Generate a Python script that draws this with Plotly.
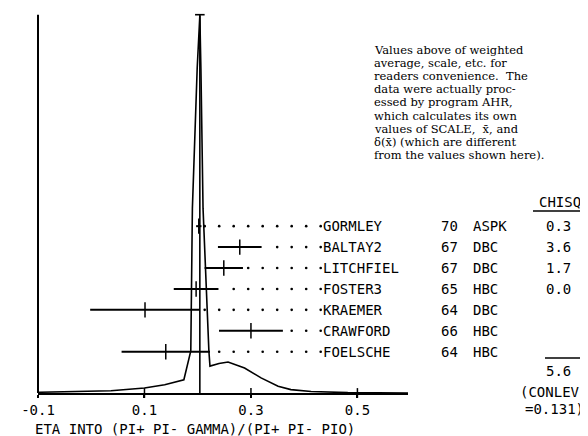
import plotly.graph_objects as go

# ---------------- data ----------------
names = ["GORMLEY", "BALTAY2", "LITCHFIEL", "FOSTER3", "KRAEMER", "CRAWFORD", "FOELSCHE"]
years = ["70", "67", "67", "65", "64", "66", "64"]
techs = ["ASPK", "DBC", "DBC", "HBC", "DBC", "HBC", "HBC"]
values = [0.202, 0.279, 0.249, 0.197, 0.101, 0.300, 0.140]
errors = [0.005, 0.041, 0.036, 0.042, 0.103, 0.060, 0.083]
chisq = ["0.3", "3.6", "1.7", "0.0", "", "", ""]
chisq_total = "5.6"
conlev = "0.131"
average = 0.204

ideo_x = [-0.100, -0.097, 0.037, 0.100, 0.138, 0.174, 0.187, 0.190, 0.199, 0.204,
          0.206, 0.210, 0.221, 0.223, 0.240, 0.257, 0.288, 0.319, 0.351, 0.375,
          0.413, 0.482, 0.595]
ideo_y = [0.000, 0.002, 0.006, 0.013, 0.022, 0.035, 0.111, 0.488, 0.858, 0.998,
          0.858, 0.488, 0.111, 0.071, 0.078, 0.082, 0.066, 0.040, 0.018, 0.009,
          0.004, 0.001, 0.000]

tick_vals = [-0.1, 0.1, 0.3, 0.5]
tick_text = ["-0.1", "0.1", "0.3", "0.5"]
x_title = "ETA INTO (PI+ PI- GAMMA)/(PI+ PI- PIO)"
note_lines = [
    "Values above of weighted",
    "average, scale, etc. for",
    "readers convenience.\u00a0\u00a0The",
    "data were actually proc-",
    "essed by program AHR,",
    "which calculates its own",
    "values of SCALE,\u00a0\u00a0x\u0304, and",
    "\u03b4(x\u0304) (which are different",
    "from the values shown here).",
]

# ---------------- layout helpers ----------------
W, H = 588, 436
ML, MR, MT, MB = 30, 188, 3, 51
PW = W - ML - MR
PH = H - MT - MB
Y_UNIT_PX = 378.3
X_END = 0.595
LEADER_END = 0.431
DOT_STEP = 14.5 / (PW / (X_END + 0.1))
MONO = "DejaVu Sans Mono"
SERIF = "DejaVu Serif"


def pxx(px):
    return (px - ML) / PW


def pxy(py):
    return (H - MB - py) / PH


row_y0, row_dy = 0.441, 0.0553
row_ys = [row_y0 - i * row_dy for i in range(len(names))]

fig = go.Figure()

# ideogram
fig.add_trace(go.Scatter(x=ideo_x, y=ideo_y, mode="lines",
                         line=dict(color="black", width=1.6), hoverinfo="skip"))

# weighted average line with cap
cap = 0.009
fig.add_trace(go.Scatter(x=[average, average, None, average - cap, average + cap],
                         y=[0, 1, None, 1, 1], mode="lines",
                         line=dict(color="black", width=1.6), cliponaxis=False,
                         hoverinfo="skip"))

# dotted leaders (dots counted back from the label column)
dx, dy = [], []
for v, e, y in zip(values, errors, row_ys):
    x = LEADER_END
    while x > v + e + 0.004:
        dx.append(x)
        dy.append(y)
        x -= DOT_STEP
fig.add_trace(go.Scatter(x=dx, y=dy, mode="markers",
                         marker=dict(symbol="circle", size=2.6, color="black"),
                         hoverinfo="skip"))

# measurements with error bars
fig.add_trace(go.Scatter(x=values, y=row_ys, mode="markers",
                         marker=dict(symbol="line-ns-open", size=11, color="black",
                                     line=dict(color="black", width=1.5)),
                         error_x=dict(type="data", array=errors, width=0,
                                      thickness=2, color="black"),
                         hoverinfo="skip"))

# crossing tick marks on the x axis
fig.add_trace(go.Scatter(x=tick_vals[1:], y=[0] * 3, mode="markers",
                         marker=dict(symbol="line-ns-open", size=7, color="black",
                                     line=dict(color="black", width=1.5)),
                         cliponaxis=False, hoverinfo="skip"))

mono = dict(family=MONO, size=14, color="black")
ann = []
for i, (n, yr, t, c) in enumerate(zip(names, years, techs, chisq)):
    py = row_ys[i]
    ann.append(dict(x=LEADER_END + 0.001, y=py, xref="x", yref="y", text=n,
                    xanchor="left", yanchor="middle", showarrow=False, font=mono))
    ann.append(dict(x=pxx(431), y=py, xref="paper", yref="y", text=yr,
                    xanchor="left", yanchor="middle", showarrow=False, font=mono))
    ann.append(dict(x=pxx(463), y=py, xref="paper", yref="y", text=t,
                    xanchor="left", yanchor="middle", showarrow=False, font=mono))
    if c:
        ann.append(dict(x=pxx(550), y=py, xref="paper", yref="y", text=c,
                        xanchor="center", yanchor="middle", showarrow=False, font=mono))

ann.append(dict(x=pxx(552), y=pxy(194), xref="paper", yref="paper", text="CHISQ",
                xanchor="center", yanchor="middle", showarrow=False, font=mono))
ann.append(dict(x=pxx(550), y=pxy(363), xref="paper", yref="paper", text=chisq_total,
                xanchor="center", yanchor="middle", showarrow=False, font=mono))
ann.append(dict(x=pxx(510), y=pxy(384), xref="paper", yref="paper", text="(CONLEV",
                xanchor="left", yanchor="middle", showarrow=False, font=mono))
ann.append(dict(x=pxx(515), y=pxy(401), xref="paper", yref="paper", text="=" + conlev + ")",
                xanchor="left", yanchor="middle", showarrow=False, font=mono))
ann.append(dict(x=pxx(25), y=pxy(421), xref="paper", yref="paper", text=x_title,
                xanchor="left", yanchor="middle", showarrow=False, font=mono))

for k, line in enumerate(note_lines):
    ann.append(dict(x=pxx(364), y=pxy(42 + 13.1 * k), xref="paper", yref="paper",
                    text=line, xanchor="left", yanchor="middle", showarrow=False,
                    font=dict(family=SERIF, size=11.5, color="black")))

shapes = [
    # left vertical axis (from baseline up to the ideogram top)
    dict(type="line", xref="paper", yref="paper", x0=0, x1=0,
         y0=0, y1=pxy(6.7), line=dict(color="black", width=2)),
    # CHISQ underline
    dict(type="line", xref="paper", yref="paper", x0=pxx(525), x1=pxx(580),
         y0=pxy(203), y1=pxy(203), line=dict(color="black", width=1.5)),
    # sum line above total
    dict(type="line", xref="paper", yref="paper", x0=pxx(537), x1=pxx(581),
         y0=pxy(350), y1=pxy(350), line=dict(color="black", width=1.5)),
]

fig.update_layout(
    width=W, height=H,
    margin=dict(l=ML, r=MR, t=MT, b=MB),
    paper_bgcolor="white", plot_bgcolor="white",
    showlegend=False,
    annotations=ann, shapes=shapes,
    xaxis=dict(range=[-0.1, X_END], showline=True, linecolor="black", linewidth=2,
               showgrid=False, zeroline=False, ticks="outside", ticklen=3,
               tickwidth=1.5, tickcolor="black", tickvals=tick_vals, ticktext=tick_text,
               tickfont=dict(family=MONO, size=14, color="black")),
    yaxis=dict(range=[0, PH / Y_UNIT_PX], showline=False,
               showgrid=False, zeroline=False,
               showticklabels=False, ticks=""),
)

fig.write_html("out.html")
